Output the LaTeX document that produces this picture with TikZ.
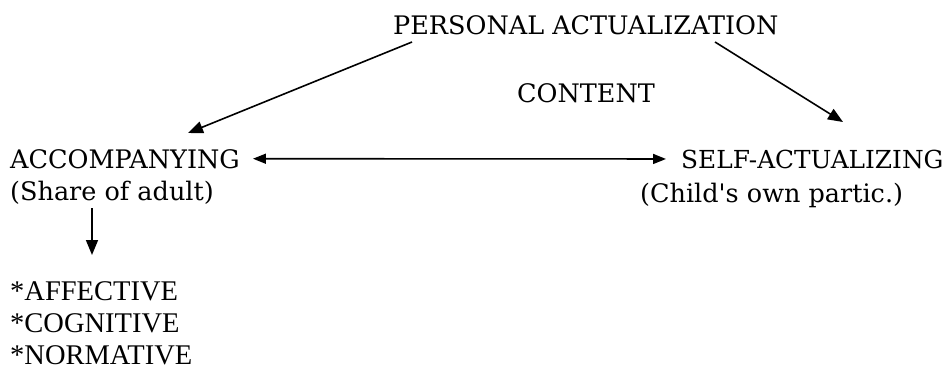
\documentclass[tikz,border=0pt]{standalone}
\usepackage{fontspec}
\setmainfont{DejaVu Serif}
\newfontfamily\listfont{Liberation Serif}
\usetikzlibrary{arrows.meta,positioning}
\tikzset{
  lbl/.style={inner sep=0pt,anchor=base west,font=\fontsize{25.5}{30}\selectfont},
  itm/.style={inner sep=0pt,anchor=base west,font=\listfont\fontsize{28.5}{33}\selectfont},
  arr/.style={line width=1.6pt,-{Triangle[length=15pt,width=12pt]}},
  harr/.style={line width=1.6pt,{Triangle[length=13pt,width=10pt]}-{Triangle[length=13pt,width=10pt]}},
}
\begin{document}
\begin{tikzpicture}[x=1pt,y=-1pt]
\useasboundingbox (0,0) rectangle (947,369);
% labels
\node[lbl] (pers) at (393,35) {PERSONAL ACTUALIZATION};
\node[lbl] (cont) at (517,102) {CONTENT};
\node[lbl] (acc) at (10,168) {ACCOMPANYING};
\node[lbl] (share) at (10,200) {(Share of adult)};
\node[lbl,font=\fontsize{24.8}{30}\selectfont] (self) at (681,168) {SELF-ACTUALIZING};
\node[lbl] (child) at (640,202) {(Child\textquotesingle s own partic.)};
% list
\node[itm] (aff) at (10,300) {*AFFECTIVE};
\node[itm] (cog) at (10,332) {*COGNITIVE};
\node[itm] (norm) at (10,364) {*NORMATIVE};
% arrows
\coordinate (t1) at (412,42);
\coordinate (h1) at (188,133);
\coordinate (t2) at (715,42);
\coordinate (h2) at (843,122);
\draw[arr] (t1) -- (h1);
\draw[arr] (t2) -- (h2);
\draw[harr] ([xshift=13pt]acc.east) -- ([xshift=-15pt]self.west);
\coordinate (d1) at (92,208);
\coordinate (d2) at (92,255);
\draw[arr] (d1) -- (d2);
\end{tikzpicture}
\end{document}
